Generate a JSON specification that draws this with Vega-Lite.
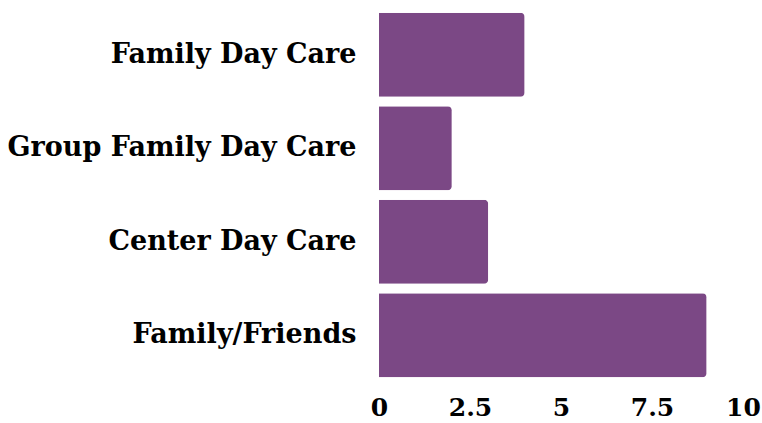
{
  "$schema": "https://vega.github.io/schema/vega-lite/v6.json",
  "autosize": {"type": "none"},
  "width": 364,
  "height": 374,
  "padding": {"left": 379, "top": 8, "right": 19, "bottom": 41},
  "background": "white",
  "data": {
    "values": [
      {"type": "Family Day Care", "count": 4},
      {"type": "Group Family Day Care", "count": 2},
      {"type": "Center Day Care", "count": 3},
      {"type": "Family/Friends", "count": 9}
    ]
  },
  "mark": {"type": "bar", "color": "#7b4885", "cornerRadiusEnd": 4},
  "encoding": {
    "y": {
      "field": "type",
      "type": "nominal",
      "sort": null,
      "title": null,
      "scale": {"paddingInner": 0.1, "paddingOuter": 0.05},
      "axis": {"domain": false, "ticks": false, "labelPadding": 23, "labelLimit": 400, "labelFontSize": 27}
    },
    "x": {
      "field": "count",
      "type": "quantitative",
      "title": null,
      "scale": {"domain": [0, 10]},
      "axis": {"values": [0, 2.5, 5, 7.5, 10], "format": ".1~f", "domain": false, "ticks": false, "grid": false, "labelPadding": 13, "labelFlush": false, "labelFontSize": 25}
    }
  },
  "config": {
    "view": {"stroke": null},
    "axis": {
      "labelFont": "DejaVu Serif",
      "labelFontWeight": "bold",
      "labelColor": "#000000"
    }
  }
}
